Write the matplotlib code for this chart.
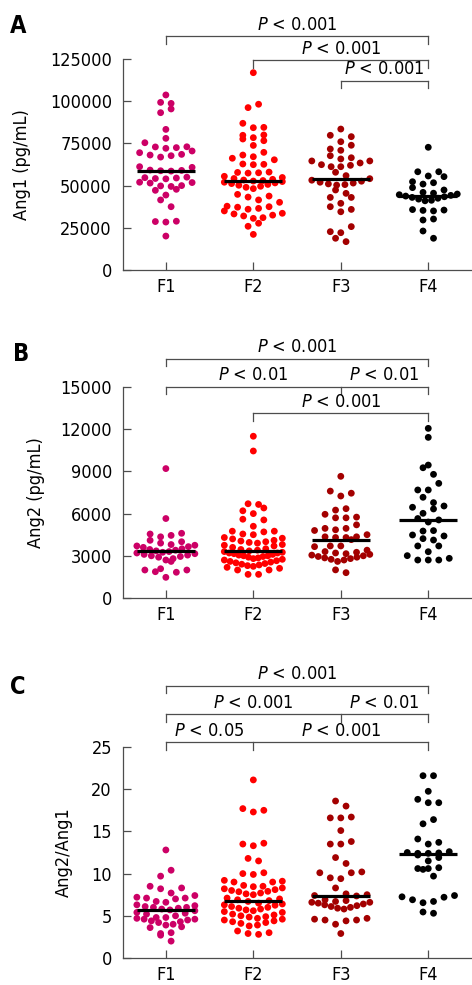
import numpy as np
import matplotlib.pyplot as plt

plt.rcParams['font.family'] = ['DejaVu Sans']
plt.rcParams['font.stretch'] = 'condensed'
plt.rcParams['mathtext.fontset'] = 'custom'
plt.rcParams['mathtext.it'] = 'DejaVu Sans:italic'

groups = ["F1", "F2", "F3", "F4"]
colors = ["#cc0066", "#ff0000", "#a30000", "#000000"]

# Ang1 (pg/mL)
ang1_f1 = [103700, 99300, 98700, 95400, 93200, 83300, 78000, 75400, 73000, 72900,
           72500, 72100, 70500, 69500, 68500, 68100, 67700, 66900, 61200, 60800,
           59200, 59000, 58800, 58600, 55000, 54700, 54500, 54200, 54000, 52000,
           51800, 51500, 50000, 49800, 49500, 47800, 47200, 44400, 41500, 37500,
           28900, 28700, 28400, 20100]
ang1_f2 = [116900, 98200, 96200, 86900, 84500, 84300, 80000, 79800, 78400, 77600,
           76600, 73800, 69700, 68100, 67100, 66200, 65300, 62800, 62600, 62400,
           58000, 57800, 57600, 57400, 55500, 54800, 54200, 53700, 53300, 53000,
           52700, 52400, 52000, 51600, 51200, 50700, 50200, 49600, 49000, 48200,
           44800, 43800, 43200, 41500, 40100, 37800, 37500, 37200, 36500, 36000,
           35000, 33600, 33200, 32500, 32000, 31000, 30600, 27700, 25900, 21100]
ang1_f3 = [83500, 79800, 79000, 76000, 73900, 71700, 70900, 67700, 66500, 65800,
           64600, 64600, 63400, 62400, 62000, 61200, 61200, 57900, 55900, 54100,
           53200, 52600, 52000, 51500, 51000, 50600, 50300, 47400, 45400, 43000,
           43000, 39500, 37500, 35900, 34500, 25700, 22700, 22100, 18800, 16800]
ang1_f4 = [72700, 58200, 58200, 55700, 55300, 52300, 51700, 50900, 48800, 47400,
           46000, 45500, 45000, 44600, 44200, 43800, 43400, 43000, 42500, 42000,
           41300, 41000, 35800, 35500, 35300, 35000, 30200, 29600, 23100, 18800]

# Ang2 (pg/mL)
ang2_f1 = [9200, 5650, 4600, 4550, 4450, 4350, 4100, 4000, 3900, 3800,
           3750, 3700, 3650, 3600, 3500, 3450, 3400, 3350, 3300, 3250,
           3200, 3150, 3100, 3050, 3000, 2950, 2900, 2800, 2700, 2600,
           2080, 1990, 1990, 1870, 1830, 1470]
ang2_f2 = [11500, 10450, 6700, 6650, 6400, 6200, 6000, 5600, 5550, 5100,
           4750, 4750, 4700, 4550, 4500, 4300, 4250, 4200, 4100, 4050,
           4000, 3950, 3900, 3800, 3750, 3700, 3600, 3500, 3450, 3400,
           3350, 3300, 3250, 3200, 3200, 3150, 3100, 3050, 3000, 3000,
           2950, 2900, 2850, 2800, 2750, 2700, 2650, 2600, 2550, 2500,
           2450, 2400, 2350, 2300, 2250, 2180, 2110, 1990, 1990, 1680, 1680]
ang2_f3 = [8650, 7600, 7450, 7250, 6350, 6250, 5950, 5750, 5700, 5700,
           5200, 4950, 4950, 4850, 4800, 4500, 4350, 4350, 4300, 4300,
           4150, 3700, 3700, 3650, 3400, 3300, 3250, 3200, 3150, 3100,
           3050, 3000, 2950, 2900, 2850, 2800, 2750, 2700, 2600, 2000, 1800]
ang2_f4 = [12060, 11420, 9450, 9260, 8790, 8150, 7680, 7680, 7160, 6780,
           6540, 6450, 6330, 6020, 5650, 5550, 5400, 4790, 4760, 4480,
           4410, 4220, 4120, 3700, 3700, 3290, 3010, 2820, 2700, 2700, 2700]

# Ang2/Ang1
ratio_f1 = [12.8, 10.4, 9.7, 8.5, 8.3, 8.2, 7.7, 7.4, 7.2, 7.1, 7.1, 7.0, 6.7, 6.6,
            6.3, 6.2, 6.1, 6.0, 6.0, 5.9, 5.8, 5.7, 5.6, 5.4, 5.3, 5.2, 5.0, 4.8,
            4.8, 4.7, 4.6, 4.6, 4.5, 4.4, 4.3, 4.2, 4.0, 3.9, 3.7, 3.6, 3.0, 2.9,
            2.7, 2.0]
ratio_f2 = [21.1, 17.7, 17.5, 17.3, 13.6, 13.5, 13.3, 11.8, 11.5, 10.1, 10.0, 9.9,
            9.2, 9.1, 9.0, 9.0, 8.6, 8.5, 8.45, 8.3, 8.2, 8.1, 8.0, 7.9, 7.85, 7.7,
            7.6, 7.5, 7.1, 7.0, 6.9, 6.8, 6.7, 6.5, 6.4, 6.3, 6.25, 6.1, 6.0, 5.9,
            5.8, 5.7, 5.6, 5.5, 5.4, 5.2, 5.1, 5.0, 4.9, 4.85, 4.7, 4.6, 4.5, 4.4,
            4.3, 4.2, 4.1, 3.9, 3.8, 3.2, 3.0, 2.9, 2.8]
ratio_f3 = [18.6, 18.0, 16.7, 16.6, 16.6, 15.1, 13.8, 13.5, 13.5, 11.9, 11.2, 10.2,
            10.1, 10.1, 9.5, 9.4, 8.3, 7.6, 7.5, 7.4, 7.35, 6.9, 6.8, 6.7, 6.6, 6.6,
            6.5, 6.4, 6.3, 6.2, 6.1, 6.0, 5.9, 5.8, 4.7, 4.6, 4.5, 4.5, 4.4, 4.0, 2.9]
ratio_f4 = [21.6, 21.6, 19.75, 18.8, 18.4, 18.4, 16.4, 15.9, 14.1, 13.7, 13.5, 12.6,
            12.5, 12.45, 12.4, 12.4, 12.2, 11.9, 11.5, 10.7, 10.6, 10.6, 10.5, 9.7,
            7.4, 7.25, 7.2, 6.9, 6.7, 6.55, 5.45, 5.3]

panels = [
    ("A", "Ang1 (pg/mL)", [ang1_f1, ang1_f2, ang1_f3, ang1_f4], 125000, 25000,
     [([0, 3], ["P < 0.001"], 1.109),
      ([1, 3], ["P < 0.001"], 0.994),
      ([2, 3], ["P < 0.001"], 0.896)]),
    ("B", "Ang2 (pg/mL)", [ang2_f1, ang2_f2, ang2_f3, ang2_f4], 15000, 3000,
     [([0, 3], ["P < 0.001"], 1.133),
      ([0, 2, 3], ["P < 0.01", "P < 0.01"], 1.001),
      ([1, 3], ["P < 0.001"], 0.875)]),
    ("C", "Ang2/Ang1", [ratio_f1, ratio_f2, ratio_f3, ratio_f4], 25, 5,
     [([0, 3], ["P < 0.001"], 1.29),
      ([0, 2, 3], ["P < 0.001", "P < 0.01"], 1.156),
      ([0, 1, 3], ["P < 0.05", "P < 0.001"], 1.022)]),
]

W, H = 472, 985
AX_L, AX_W, AX_H = 123, 349, 211
bottoms = [270, 598, 958]
letter_pos = [(10, 33), (13, 361), (10, 694)]
ylabel_x = [22, 36, 63.5]
XPX = 87.5  # pixels per category


def swarm(values, ymax, h=7.5, s_max=10.5, half_w=29.0):
    # Prism-like scatter: bin into rows, spread each row, lowest value in the middle
    y = np.asarray(values, float) * AX_H / ymax
    xs = np.zeros(len(y))
    rows = []
    for i in np.argsort(y, kind="stable"):
        if rows and y[i] - y[rows[-1][0]] < h:
            rows[-1].append(i)
        else:
            rows.append([i])
    for r, row in enumerate(rows):
        n = len(row)
        s = s_max if n < 2 else min(s_max, 2 * half_w / (n - 1))
        offs = (np.arange(n) - (n - 1) / 2) * s
        sign = 1 if r % 2 else -1
        rank = sorted(range(n), key=lambda j: (abs(offs[j]), sign * offs[j]))
        for i, j in zip(row, rank):
            xs[i] = offs[j]
    return xs / XPX


fig = plt.figure(figsize=(W / 100, H / 100), dpi=100)
axis_col = "#4d4d4d"

for k, (letter, ylab, data, ymax, step, brackets) in enumerate(panels):
    b = bottoms[k]
    ax = fig.add_axes([AX_L / W, 1 - b / H, AX_W / W, AX_H / H])
    ax.set_xlim(-0.49, 3.5)
    ax.set_ylim(0, ymax)
    for s in ("top", "right"):
        ax.spines[s].set_visible(False)
    for s in ("left", "bottom"):
        ax.spines[s].set_color(axis_col)
        ax.spines[s].set_linewidth(0.9)
    ax.set_yticks(np.arange(0, ymax + 1, step))
    ax.set_yticklabels([str(int(v)) for v in np.arange(0, ymax + 1, step)])
    ax.set_xticks(range(4))
    ax.set_xticklabels(groups)
    ax.tick_params(axis="both", direction="in", length=6, width=0.9,
                   color=axis_col, labelsize=13)
    ax.tick_params(axis="y", pad=8)
    ax.tick_params(axis="x", pad=5.5)

    for g, vals in enumerate(data):
        off = swarm(vals, ymax)
        ax.scatter(g + off, vals, s=24, color=colors[g], edgecolors="none",
                   clip_on=False, zorder=3)
        med = np.median(vals)
        ax.plot([g - 0.33, g + 0.33], [med, med], color="black", lw=2.3,
                solid_capstyle="butt", zorder=4)

    tr = ax.get_xaxis_transform()
    tick = 7.5 / AX_H
    for xs, labels, lev in brackets:
        ax.plot([xs[0], xs[-1]], [lev, lev], color=axis_col, lw=0.9,
                transform=tr, clip_on=False)
        for x in xs:
            ax.plot([x, x], [lev, lev - tick], color=axis_col, lw=0.9,
                    transform=tr, clip_on=False)
        for j, lab in enumerate(labels):
            xm = (xs[j] + xs[j + 1]) / 2
            txt = "$\\it{P}$" + lab[1:]
            ax.text(xm, lev + 2.5 / AX_H, txt, transform=tr, ha="center",
                    va="bottom", fontsize=13)

    lx, ly = letter_pos[k]
    fig.text(lx / W, 1 - ly / H, letter, fontsize=17, fontweight="bold",
             ha="left", va="baseline")
    fig.text(ylabel_x[k] / W, 1 - (b - AX_H / 2) / H, ylab, rotation=90,
             ha="center", va="center", fontsize=13)

fig.savefig("out.png", dpi=100)
